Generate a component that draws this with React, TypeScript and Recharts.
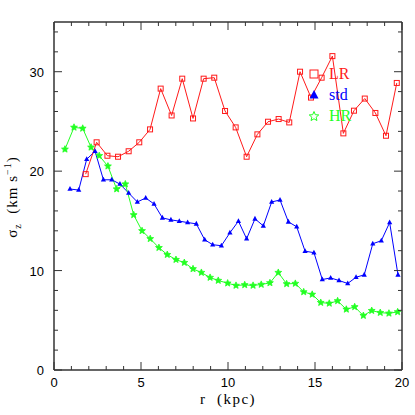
import React from 'react';
import { LineChart, Line, XAxis, YAxis, Legend } from 'recharts';

// radius bins (kpc) and vertical dispersion (km/s) per run
const lrR = [1.82, 2.45, 3.07, 3.68, 4.29, 4.9, 5.52, 6.13, 6.76, 7.37, 7.99, 8.6, 9.21, 9.83, 10.44, 11.07, 11.69, 12.3, 12.91, 13.52, 14.14, 14.77, 15.38, 16.0, 16.63, 17.24, 17.86, 18.47, 19.08, 19.7];
const lrSigma = [19.7, 22.9, 21.55, 21.45, 22.0, 22.9, 24.2, 28.3, 25.6, 29.3, 25.3, 29.3, 29.4, 26.05, 24.4, 21.45, 23.7, 24.97, 25.24, 24.9, 30.0, 27.4, 29.4, 31.57, 23.8, 26.08, 27.3, 25.85, 23.56, 28.87];

const stdR = [0.92, 1.42, 1.88, 2.36, 2.84, 3.32, 3.79, 4.29, 4.79, 5.27, 5.75, 6.23, 6.72, 7.2, 7.68, 8.18, 8.66, 9.12, 9.62, 10.11, 10.6, 11.07, 11.55, 12.03, 12.51, 12.99, 13.47, 13.95, 14.43, 14.94, 15.42, 15.9, 16.38, 16.88, 17.36, 17.83, 18.32, 18.81, 19.29, 19.77];
const stdSigma = [18.2, 18.1, 21.2, 22.0, 19.13, 19.13, 18.7, 17.8, 16.9, 17.3, 16.7, 15.3, 15.1, 14.97, 14.83, 14.7, 13.1, 12.6, 12.5, 13.8, 14.97, 13.2, 15.2, 14.5, 16.9, 17.1, 14.9, 14.4, 11.95, 11.8, 9.1, 9.26, 9.0, 8.7, 9.33, 9.57, 12.7, 13.0, 14.83, 9.57];

const hrR = [0.63, 1.15, 1.65, 2.13, 2.6, 3.1, 3.6, 4.1, 4.58, 5.06, 5.53, 6.03, 6.51, 7.01, 7.49, 7.99, 8.47, 8.97, 9.44, 9.98, 10.46, 10.96, 11.44, 11.91, 12.41, 12.89, 13.37, 13.87, 14.35, 14.84, 15.33, 15.82, 16.3, 16.8, 17.28, 17.78, 18.26, 18.75, 19.25, 19.75];
const hrSigma = [22.2, 24.4, 24.3, 22.4, 21.55, 20.5, 18.2, 18.7, 15.6, 14.0, 13.2, 12.3, 11.6, 11.1, 10.8, 10.17, 9.8, 9.3, 9.0, 8.73, 8.5, 8.56, 8.5, 8.6, 8.76, 9.8, 8.66, 8.7, 7.85, 7.6, 6.78, 6.7, 6.95, 6.1, 6.35, 5.47, 5.97, 5.77, 5.7, 5.84];

const xTicks = [0, 1, 2, 3, 4, 5, 6, 7, 8, 9, 10, 11, 12, 13, 14, 15, 16, 17, 18, 19, 20];
const yTicks = [0, 2, 4, 6, 8, 10, 12, 14, 16, 18, 20, 22, 24, 26, 28, 30, 32, 34];

const legendLabels = ['LR', 'std', 'HR'];

const RED = '#ff1a1a';
const BLUE = '#0000ff';
const GREEN = '#22ff22';
const AXIS = '#333';

const pairs = (r: number[], s: number[]) => r.map((v, i) => ({ r: v, s: s[i] }));
const lr = pairs(lrR, lrSigma);
const std = pairs(stdR, stdSigma);
const hr = pairs(hrR, hrSigma);

function starPath(cx: number, cy: number, ro: number) {
  const ri = ro * 0.45;
  let d = '';
  for (let i = 0; i < 10; i++) {
    const rad = i % 2 === 0 ? ro : ri;
    const a = -Math.PI / 2 + (i * Math.PI) / 5;
    d += (i === 0 ? 'M' : 'L') + (cx + rad * Math.cos(a)).toFixed(2) + ',' + (cy + rad * Math.sin(a)).toFixed(2);
  }
  return d + 'Z';
}

const SquareDot = (p: any) => (
  <rect key={p.key} x={p.cx - 2.5} y={p.cy - 2.5} width={5} height={5} fill="none" stroke={RED} strokeWidth={1} />
);
const TriDot = (p: any) => (
  <path key={p.key} d={`M${p.cx},${p.cy - 3}L${p.cx + 2.6},${p.cy + 1.8}L${p.cx - 2.6},${p.cy + 1.8}Z`} fill={BLUE} />
);
const StarDot = (p: any) => (
  <path key={p.key} d={starPath(p.cx, p.cy, 3.6)} fill={GREEN} stroke={GREEN} strokeWidth={0.8} />
);

const isMajorX = (v: number) => v % 5 === 0;
const isMajorY = (v: number) => v % 10 === 0;
const tickFont = { fontFamily: '"Liberation Sans", Arial, sans-serif', fontSize: 13, fill: '#000' };

const BottomTick = ({ x, y, payload }: any) => {
  const major = isMajorX(payload.value);
  return (
    <g>
      <line x1={x} x2={x} y1={y} y2={y - (major ? 8 : 4)} stroke={AXIS} />
      {major && (
        <text x={x} y={y + 17} textAnchor="middle" {...tickFont}>
          {payload.value}
        </text>
      )}
    </g>
  );
};
const TopTick = ({ x, y, payload }: any) => (
  <line x1={x} x2={x} y1={y} y2={y + (isMajorX(payload.value) ? 8 : 4)} stroke={AXIS} />
);
const LeftTick = ({ x, y, payload }: any) => {
  const major = isMajorY(payload.value);
  return (
    <g>
      <line x1={x} x2={x + (major ? 8 : 4)} y1={y} y2={y} stroke={AXIS} />
      {major && (
        <text x={x - 10} y={y + 5} textAnchor="end" {...tickFont}>
          {payload.value}
        </text>
      )}
    </g>
  );
};
const RightTick = ({ x, y, payload }: any) => (
  <line x1={x} x2={x - (isMajorY(payload.value) ? 8 : 4)} y1={y} y2={y} stroke={AXIS} />
);

const serif = '"Liberation Serif", "DejaVu Serif", serif';

function LegendBox() {
  const colors = [RED, BLUE, GREEN];
  const icons = [
    <rect key="a" x={3} y={3} width={8} height={8} fill="none" stroke={RED} strokeWidth={1} />,
    <path key="b" d="M7,2L11.5,10.5L2.5,10.5Z" fill={BLUE} />,
    <path key="c" d={starPath(7, 7.5, 5)} fill="none" stroke={GREEN} strokeWidth={1} />,
  ];
  return (
    <div>
      {legendLabels.map((l, i) => (
        <div key={l} style={{ display: 'flex', alignItems: 'center', height: 21 }}>
          <svg width={14} height={14}>{icons[i]}</svg>
          <span style={{ marginLeft: 8, color: colors[i], fontFamily: serif, fontSize: 16, lineHeight: '16px' }}>{l}</span>
        </div>
      ))}
    </div>
  );
}

export default function App() {
  return (
    <div style={{ position: 'absolute', left: 0, top: 0, width: 415, height: 415, background: '#fff' }}>
      <LineChart width={415} height={415} margin={{ top: 21, right: 12, bottom: 0, left: 0 }}>
        <XAxis
          xAxisId="b"
          dataKey="r"
          type="number"
          domain={[0, 20]}
          ticks={xTicks}
          interval={0}
          height={45}
          tickSize={0}
          tickMargin={0}
          tickLine={false}
          tick={<BottomTick />}
          axisLine={{ stroke: AXIS, strokeWidth: 1.5 }}
          label={{
            content: () => (
              <text x={228} y={404} textAnchor="middle" fontFamily={serif} fontSize={15} letterSpacing={1.5} fill="#000">
                {'r\u00a0\u00a0(kpc)'}
              </text>
            ),
          }}
        />
        <XAxis
          xAxisId="t"
          orientation="top"
          dataKey="r"
          type="number"
          domain={[0, 20]}
          ticks={xTicks}
          interval={0}
          height={1}
          tickSize={0}
          tickMargin={0}
          tickLine={false}
          tick={<TopTick />}
          axisLine={{ stroke: AXIS, strokeWidth: 1.5 }}
        />
        <YAxis
          yAxisId="l"
          type="number"
          domain={[0, 35]}
          ticks={yTicks}
          interval={0}
          width={54}
          tickSize={0}
          tickMargin={0}
          tickLine={false}
          tick={<LeftTick />}
          axisLine={{ stroke: AXIS, strokeWidth: 1.5 }}
          label={{
            content: () => (
              <text transform="translate(17,197) rotate(-90)" textAnchor="middle" fontFamily={serif} fontSize={15} letterSpacing={1} fill="#000">
                σ<tspan fontSize={10} dy={4}>z</tspan>
                <tspan dy={-4}>{'\u00a0\u00a0(km s'}</tspan>
                <tspan fontSize={10} dy={-6}>−1</tspan>
                <tspan dy={6}>)</tspan>
              </text>
            ),
          }}
        />
        <YAxis
          yAxisId="r"
          orientation="right"
          type="number"
          domain={[0, 35]}
          ticks={yTicks}
          interval={0}
          width={1}
          tickSize={0}
          tickMargin={0}
          tickLine={false}
          tick={<RightTick />}
          axisLine={{ stroke: AXIS, strokeWidth: 1.5 }}
        />
        <Legend
          layout="horizontal"
          verticalAlign="middle"
          align="center"
          wrapperStyle={{ top: 63, left: 307, width: 'auto' }}
          content={() => <LegendBox />}
        />
        {/* std is bound to the top/right axes (same fixed domains) so those frame axes get drawn */}
        <Line xAxisId="t" yAxisId="r" data={std} dataKey="s" name="std" stroke={BLUE} strokeWidth={1} dot={TriDot} isAnimationActive={false} />
        <Line xAxisId="b" yAxisId="l" data={hr} dataKey="s" name="HR" stroke={GREEN} strokeWidth={1} dot={StarDot} isAnimationActive={false} />
        <Line xAxisId="b" yAxisId="l" data={lr} dataKey="s" name="LR" stroke={RED} strokeWidth={1} dot={SquareDot} isAnimationActive={false} />
      </LineChart>
    </div>
  );
}
